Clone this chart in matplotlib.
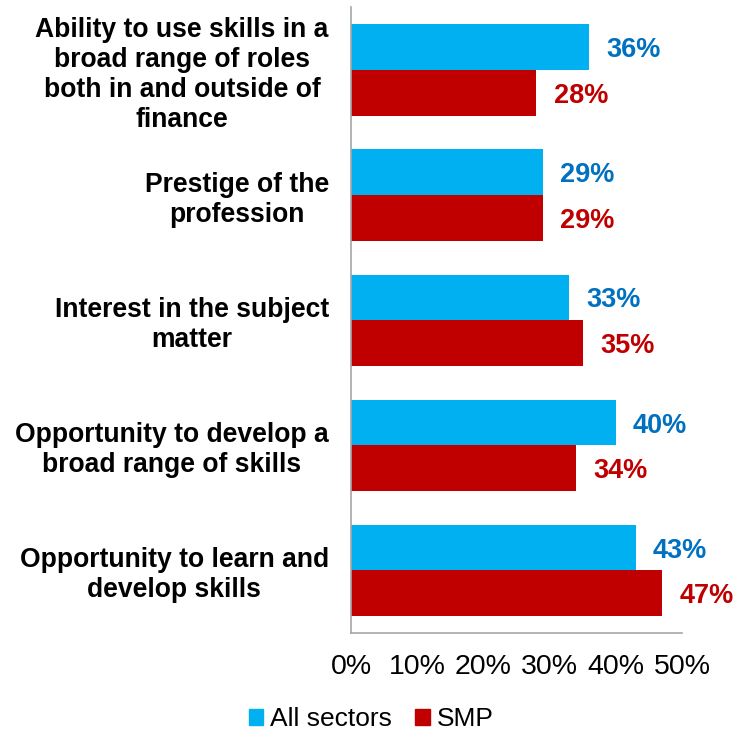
import matplotlib
matplotlib.use("Agg")
import matplotlib.pyplot as plt
import numpy as np
from matplotlib.patches import Patch

categories = [
    "Ability to use skills in a\nbroad range of roles\nboth in and outside of\nfinance",
    "Prestige of the\nprofession",
    "Interest in the subject\nmatter",
    "Opportunity to develop a\nbroad range of skills",
    "Opportunity to learn and\ndevelop skills",
]
all_sectors = [36, 29, 33, 40, 43]
smp = [28, 29, 35, 34, 47]
series_names = ["All sectors", "SMP"]
xticks = [0, 10, 20, 30, 40, 50]

blue = "#00B0F0"
red = "#C00000"
blue_txt = "#0070C0"
red_txt = "#C00000"

plt.rcParams["font.family"] = ["Liberation Sans", "DejaVu Sans"]

fig = plt.figure(figsize=(7.33, 7.30), dpi=100)
ax = fig.add_axes([351 / 733, 97 / 730, 331 / 733, 625.5 / 730])

y = np.arange(len(categories))
h = 0.365
ax.barh(y - h / 2, all_sectors, height=h, color=blue)
ax.barh(y + h / 2, smp, height=h, color=red)

for yi, v in zip(y, all_sectors):
    ax.text(v + 2.6, yi - h / 2, f"{v}%", va="center_baseline", ha="left",
            fontsize=19.5, fontweight="bold", color=blue_txt)
for yi, v in zip(y, smp):
    ax.text(v + 2.6, yi + h / 2, f"{v}%", va="center_baseline", ha="left",
            fontsize=19.5, fontweight="bold", color=red_txt)

ax.set_xlim(0, 50)
ax.set_ylim(len(categories) - 0.5, -0.5)
ax.set_xticks(xticks)
ax.set_xticklabels([f"{t}%" for t in xticks], fontsize=20.5)
ax.set_yticks(y)
ax.set_yticklabels(categories, fontsize=19.1, fontweight="bold",
                   multialignment="center", linespacing=1.2)
ax.tick_params(axis="both", length=0)
ax.tick_params(axis="x", pad=15)
ax.tick_params(axis="y", pad=16)

for s in ["top", "right"]:
    ax.spines[s].set_visible(False)
for s in ["left", "bottom"]:
    ax.spines[s].set_color("#A6A6A6")
    ax.spines[s].set_linewidth(1.2)

handles = [Patch(color=blue), Patch(color=red)]
fig.legend(handles, series_names, loc="center", bbox_to_anchor=(371 / 733, 1 - 719 / 730),
           ncol=2, frameon=False, fontsize=19, handlelength=0.55, handleheight=0.55,
           handletextpad=0.25, columnspacing=0.9)

fig.savefig("out.png", dpi=100)
